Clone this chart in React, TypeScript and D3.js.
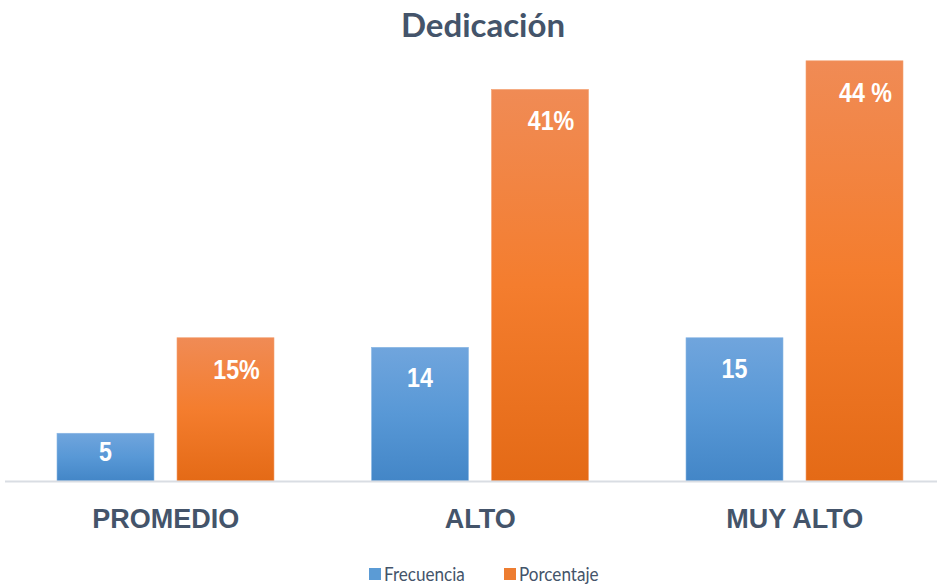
import { useEffect, useRef } from 'react'
import * as d3 from 'd3'

const categories = ['PROMEDIO', 'ALTO', 'MUY ALTO']
const seriesNames = ['Frecuencia', 'Porcentaje']
const frecuencia = [5, 14, 15]
const porcentaje = [15, 41, 44]
const pctLabels = ['15%', '41%', '44 %']

export default function App() {
  const ref = useRef<SVGSVGElement | null>(null)

  useEffect(() => {
    document.body.style.margin = '0'
    draw()
  }, [])

  const draw = () => {
    const width = 937
    const height = 588
    const baseline = 481

    const svg = d3.select(ref.current)
    svg.selectAll('*').remove()
    svg.attr('width', width).attr('height', height).style('background', '#fff')

    const defs = svg.append('defs')
    const grad = (id: string, top: string, mid: string, bottom: string) => {
      const g = defs.append('linearGradient').attr('id', id)
        .attr('x1', 0).attr('y1', 0).attr('x2', 0).attr('y2', 1)
      g.append('stop').attr('offset', '0%').attr('stop-color', top)
      g.append('stop').attr('offset', '50%').attr('stop-color', mid)
      g.append('stop').attr('offset', '100%').attr('stop-color', bottom)
    }
    grad('g-blue', '#70a5dd', '#5898d6', '#4386c7')
    grad('g-orange', '#f08b55', '#f47d2e', '#e46a16')

    const x0 = d3.scaleBand()
      .domain(categories)
      .range([8.5, 952])
    const x1 = d3.scaleBand()
      .domain(seriesNames)
      .range([48.5, 265.5])
      .paddingInner(23 / 120)
    const y = d3.scaleLinear()
      .domain([0, 50])
      .range([baseline, baseline - 50 * 9.55])

    // title
    svg.append('text')
      .attr('x', 483).attr('y', 37)
      .attr('text-anchor', 'middle')
      .style('font-family', 'Lato, sans-serif')
      .style('font-weight', 700)
      .style('font-size', '33px')
      .style('fill', '#44546a')
      .text('Dedicación')

    const fills = ['url(#g-blue)', 'url(#g-orange)']
    const series = [frecuencia, porcentaje]

    series.forEach((vals, si) => {
      const g = svg.append('g')
      g.selectAll('rect')
        .data(vals)
        .join('rect')
        .attr('x', (_, i) => x0(categories[i])! + x1(seriesNames[si])!)
        .attr('y', d => y(d))
        .attr('width', x1.bandwidth())
        .attr('height', d => baseline - y(d))
        .attr('fill', fills[si])
        .attr('stroke', si === 0 ? '#8bb7e5' : '#f3a070')
        .attr('stroke-width', 0.6)

      // data labels, squeezed to look like a narrow bold face
      g.selectAll('text')
        .data(vals)
        .join('text')
        .attr('transform', (d, i) => {
          const lx = x0(categories[i])! + x1(seriesNames[si])! + x1.bandwidth() / 2 + (si === 1 ? 11 : 0)
          const ly = Math.min(y(d) + (si === 0 ? 40 : 41), baseline - 20)
          return `translate(${lx}, ${ly}) scale(0.83, 1)`
        })
        .attr('text-anchor', 'middle')
        .style('font-family', '"Liberation Sans", Arial, sans-serif')
        .style('font-weight', 700)
        .style('font-size', '28px')
        .style('fill', '#fff')
        .text((d, i) => si === 0 ? String(d) : pctLabels[i])
    })

    // axis line
    svg.append('line')
      .attr('x1', 5).attr('x2', width)
      .attr('y1', baseline + 0.5).attr('y2', baseline + 0.5)
      .attr('stroke', '#d9dde3').attr('stroke-width', 2)

    // category labels
    const xAxis = d3.axisBottom(x0).tickSize(0).tickPadding(0)
    const ax = svg.append('g')
      .attr('transform', `translate(0, ${baseline})`)
      .call(xAxis)
    ax.select('.domain').remove()
    ax.selectAll('text')
      .attr('x', 0)
      .attr('dy', null)
      .attr('y', 47)
      .style('font-family', '"Liberation Sans", Arial, sans-serif')
      .style('font-weight', 700)
      .style('font-size', '27px')
      .style('fill', '#44546a')

    // legend
    const legend = svg.append('g')
    const items = [
      { name: seriesNames[0], x: 369, color: '#5b9bd5' },
      { name: seriesNames[1], x: 504, color: '#ed7d31' }
    ]
    items.forEach(it => {
      legend.append('rect')
        .attr('x', it.x).attr('y', 568)
        .attr('width', 12).attr('height', 12)
        .attr('fill', it.color)
      legend.append('text')
        .attr('transform', `translate(${it.x + 15}, 581) scale(0.9, 1)`)
        .style('font-family', 'Lato, sans-serif')
        .style('font-size', '19px')
        .style('fill', '#44546a')
        .text(it.name)
    })
  }

  return (
    <div className="chart">
      <svg ref={ref}></svg>
    </div>
  )
}
